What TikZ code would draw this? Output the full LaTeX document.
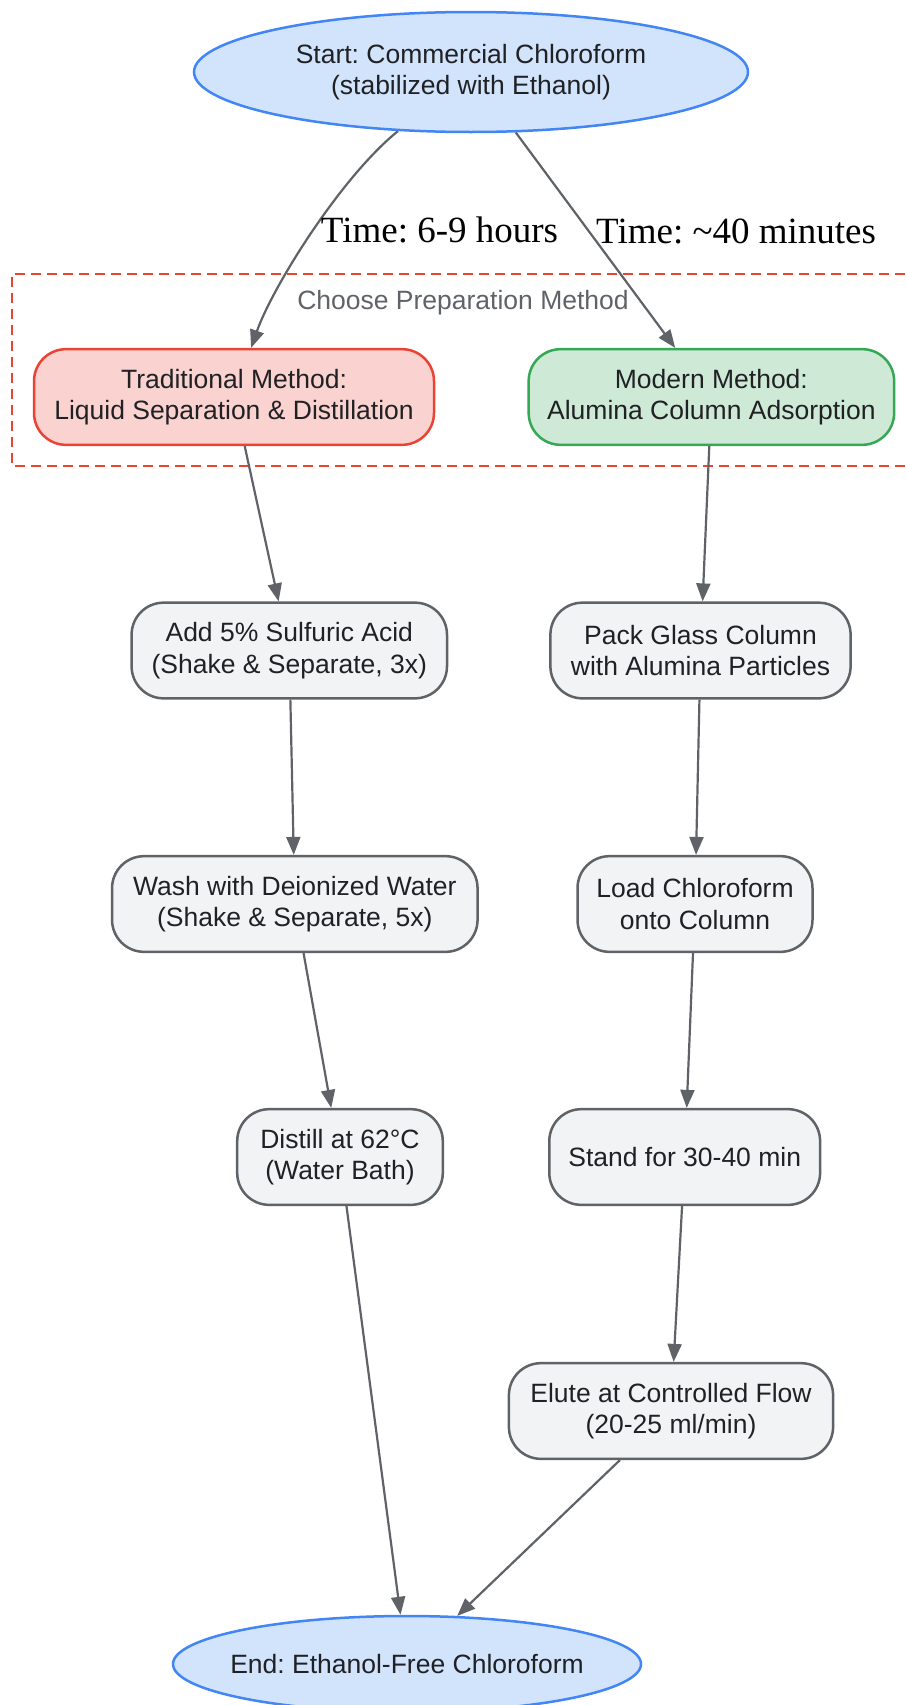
\documentclass[tikz,border=0pt]{standalone}
\usepackage{fontspec}
\setmainfont{Liberation Serif}
\setsansfont{Liberation Sans}
\usetikzlibrary{shapes.geometric,arrows.meta}
\frenchspacing

\definecolor{termfill}{HTML}{D2E3FC}
\definecolor{termline}{HTML}{4285F4}
\definecolor{tradfill}{HTML}{FAD2CF}
\definecolor{tradline}{HTML}{EA4335}
\definecolor{modfill}{HTML}{CEEAD6}
\definecolor{modline}{HTML}{34A853}
\definecolor{stepfill}{HTML}{F1F3F4}
\definecolor{flowgray}{HTML}{5F6368}
\definecolor{inktext}{HTML}{202124}

\begin{document}
\begin{tikzpicture}[x=1pt,y=-1pt,
  nodefont/.style={font=\sffamily\fontsize{26.5}{31.5}\selectfont, text=inktext},
  terminal/.style={ellipse, nodefont, draw=termline, fill=termfill,
    line width=2.5pt, inner sep=0pt, align=center},
  stepbox/.style={rectangle, rounded corners=32pt, nodefont, draw=flowgray,
    fill=stepfill, line width=2.5pt, minimum height=95.7pt, inner sep=10pt,
    align=center},
  tradbox/.style={stepbox, draw=tradline, fill=tradfill},
  modbox/.style={stepbox, draw=modline, fill=modfill},
  flow/.style={draw=flowgray, line width=2.2pt,
    -{Triangle[length=18pt,width=14pt]}},
  timelbl/.style={font=\fontsize{37}{40}\selectfont, anchor=west, inner sep=6pt}]
\useasboundingbox (0,0) rectangle (905,1705);

% choose method group
\draw[tradline, line width=2.2pt, dash pattern=on 10pt off 6pt]
  (905,274) -- (12,274) -- (12,466) -- (905,466);
\node[font=\sffamily\fontsize{26.5}{31.5}\selectfont, text=flowgray]
  (grp) at (463,303) {Choose Preparation Method};

% start and end
\node[terminal, minimum width=554pt, minimum height=120pt]
  (start) at (471,72) {Start: Commercial Chloroform\\(stabilized with Ethanol)};
\node[terminal, minimum width=468pt, minimum height=96pt]
  (finish) at (407,1664) {\makebox[0pt]{End: Ethanol-Free Chloroform}};

% traditional route
\node[tradbox, minimum width=400pt] (trad) at (234,397)
  {Traditional Method:\\Liquid Separation \& Distillation};
\node[stepbox, minimum width=315.4pt] (acid) at (289.3,650.5)
  {Add 5\% Sulfuric Acid\\(Shake \& Separate, 3x)};
\node[stepbox, minimum width=365.5pt] (wash) at (294.8,904)
  {Wash with Deionized Water\\(Shake \& Separate, 5x)};
\node[stepbox, minimum width=205.6pt] (distill) at (340,1157)
  {Distill at 62°C\\(Water Bath)};

% modern route
\node[modbox, minimum width=365.5pt] (modern) at (711.4,397)
  {Modern Method:\\Alumina Column Adsorption};
\node[stepbox, minimum width=300.2pt] (pack) at (700.5,650.5)
  {Pack Glass Column\\with Alumina Particles};
\node[stepbox, minimum width=235pt] (load) at (695,904)
  {Load Chloroform\\onto Column};
\node[stepbox, minimum width=270.8pt] (stand) at (684.7,1157)
  {Stand for 30-40 min};
\node[stepbox, minimum width=324.2pt] (elute) at (671,1411)
  {Elute at Controlled Flow\\(20-25 ml/min)};

% connectors
\draw[flow] (start) .. controls (340,178) and (272,288) .. (trad)
  node[timelbl, pos=0.48] {Time: 6-9 hours};
\draw[flow] (start) -- (modern)
  node[timelbl, pos=0.46] {Time: \textasciitilde40 minutes};
\draw[flow] (trad) -- (acid);
\draw[flow] (acid) -- (wash);
\draw[flow] (wash) -- (distill);
\draw[flow] (distill) -- (finish);
\draw[flow] (modern) -- (pack);
\draw[flow] (pack) -- (load);
\draw[flow] (load) -- (stand);
\draw[flow] (stand) -- (elute);
\draw[flow] (elute) -- (finish);
\end{tikzpicture}
\end{document}
